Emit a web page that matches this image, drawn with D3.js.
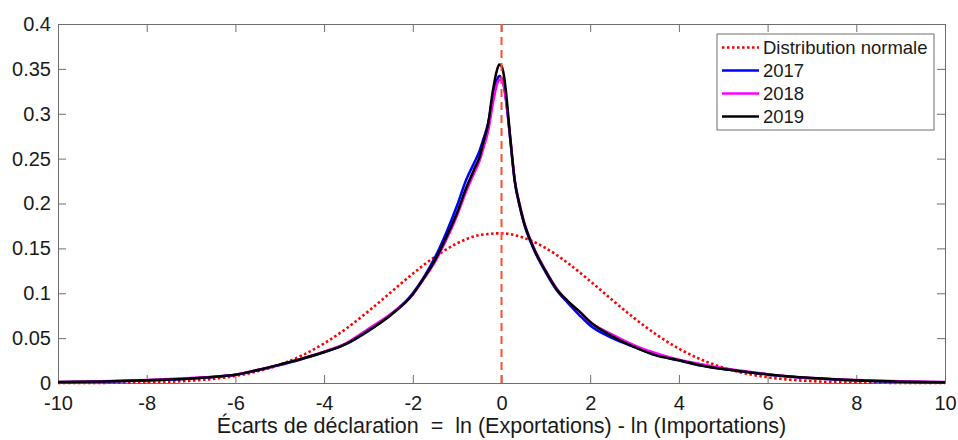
<!DOCTYPE html>
<html>
<head>
<meta charset="utf-8">
<script src="https://cdn.jsdelivr.net/npm/d3@7"></script>
<style>
  body { margin: 0; background: #fff; }
  text { font-family: "Liberation Sans", Arial, sans-serif; fill: #1a1a1a; }
</style>
</head>
<body>
<div id="chart"></div>
<script>
var xs = [-10, -9, -8, -7, -6.5, -6, -5.5, -5, -4.5, -4, -3.5, -3, -2.5, -2, -1.75, -1.5, -1.25, -1,
  -0.8, -0.6, -0.5, -0.4, -0.3, -0.2, -0.1, -0.05, 0, 0.05, 0.1, 0.2, 0.3, 0.4, 0.5, 0.7,
  1, 1.25, 1.5, 1.75, 2, 2.5, 3, 3.5, 4, 4.5, 5, 5.5, 6, 6.5, 7, 8, 9, 10];

var y2017 = [0.0008, 0.0015, 0.0028, 0.0050, 0.0068, 0.0092, 0.0142, 0.0200, 0.0268, 0.0342, 0.0435, 0.0580, 0.0760, 0.1000, 0.118, 0.140, 0.167, 0.198,
  0.226, 0.247, 0.258, 0.273, 0.290, 0.318, 0.338, 0.342, 0.340, 0.333, 0.316, 0.270, 0.224, 0.199, 0.179, 0.152,
  0.123, 0.103, 0.089, 0.076, 0.064, 0.050, 0.040, 0.031, 0.025, 0.0195, 0.0155, 0.0125, 0.0095, 0.0070, 0.0052, 0.0028, 0.0014, 0.0006];

var y2018 = [0.0012, 0.0020, 0.0033, 0.0055, 0.0070, 0.0093, 0.0145, 0.0205, 0.0272, 0.0350, 0.0445, 0.0605, 0.0770, 0.0985, 0.116, 0.135, 0.159, 0.187,
  0.213, 0.236, 0.247, 0.263, 0.281, 0.310, 0.333, 0.338, 0.337, 0.331, 0.316, 0.272, 0.226, 0.201, 0.181, 0.154,
  0.125, 0.105, 0.091, 0.080, 0.068, 0.054, 0.042, 0.033, 0.026, 0.021, 0.0165, 0.013, 0.0098, 0.0073, 0.0055, 0.0033, 0.0020, 0.0010];

var y2019 = [0.0010, 0.0018, 0.0030, 0.0050, 0.0068, 0.0092, 0.0145, 0.0205, 0.0270, 0.0345, 0.0437, 0.0585, 0.0755, 0.0990, 0.117, 0.137, 0.162, 0.190,
  0.217, 0.240, 0.251, 0.270, 0.289, 0.324, 0.349, 0.355, 0.353, 0.344, 0.325, 0.272, 0.225, 0.200, 0.180, 0.153,
  0.124, 0.104, 0.091, 0.080, 0.068, 0.052, 0.040, 0.0305, 0.0255, 0.0195, 0.0155, 0.0125, 0.0095, 0.0072, 0.0055, 0.0030, 0.0015, 0.0008];

// normal curve, read every 0.5
var xsNorm = d3.range(-10, 10.01, 0.5);
var yNorm = [0.00003, 0.00007, 0.00016, 0.00035, 0.0007, 0.0014, 0.0026, 0.0046, 0.0079, 0.0130,
  0.0204, 0.0307, 0.0441, 0.0607, 0.0800, 0.1009, 0.1218, 0.1406, 0.1556, 0.1647,
  0.1668, 0.1618, 0.1502, 0.1335, 0.1135, 0.0924, 0.0720, 0.0537, 0.0383, 0.0262,
  0.0171, 0.0107, 0.0064, 0.0037, 0.0020, 0.0011, 0.0005, 0.0003, 0.0001, 0.00005, 0.00002];

var xTicks = [-10, -8, -6, -4, -2, 0, 2, 4, 6, 8, 10];
var yTicks = [0, 0.05, 0.1, 0.15, 0.2, 0.25, 0.3, 0.35, 0.4];
var legendLabels = ["Distribution normale", "2017", "2018", "2019"];

var W = 958, H = 440;
var margin = { top: 24, right: 13, bottom: 57, left: 58 };
var width = W - margin.left - margin.right;
var height = H - margin.top - margin.bottom;

var svg = d3.select("#chart").append("svg")
  .attr("width", W).attr("height", H);

var g = svg.append("g")
  .attr("transform", `translate(${margin.left},${margin.top})`);

var x = d3.scaleLinear().domain([-10, 10]).range([0, width]);
var y = d3.scaleLinear().domain([0, 0.4]).range([height, 0]);

var axisColor = "#6e6e6e";

// axes with inward ticks on all four sides (matlab box)
var xAxis = g.append("g").attr("transform", `translate(0,${height})`)
  .call(d3.axisBottom(x).tickValues(xTicks).tickSize(-8).tickPadding(13).tickFormat(d => String(d)));
var xTop = g.append("g")
  .call(d3.axisTop(x).tickValues(xTicks).tickSize(-8).tickFormat(""));
var yAxis = g.append("g")
  .call(d3.axisLeft(y).tickValues(yTicks).tickSize(-8).tickPadding(7).tickFormat(d => d === 0 ? "0" : String(+d.toFixed(2))));
var yRight = g.append("g").attr("transform", `translate(${width},0)`)
  .call(d3.axisRight(y).tickValues(yTicks).tickSize(-8).tickFormat(""));

[xAxis, xTop, yAxis, yRight].forEach(a => {
  a.select(".domain").attr("stroke", axisColor);
  a.selectAll(".tick line").attr("stroke", axisColor);
  a.selectAll(".tick text").style("font-size", "20px").attr("fill", "#1a1a1a");
});
xAxis.selectAll(".tick text").attr("dy", "0.7em");

var line = d3.line().x(d => x(d[0])).y(d => y(d[1])).curve(d3.curveMonotoneX);

// normal distribution (dotted red)
g.append("path")
  .datum(xsNorm.map((v, i) => [v, yNorm[i]]))
  .attr("d", line)
  .attr("fill", "none")
  .attr("stroke", "#ff0000")
  .attr("stroke-width", 2.6)
  .attr("stroke-dasharray", "2.5,2.5");

var series = [
  { vals: y2017, color: "#0000ff" },
  { vals: y2018, color: "#ff00ff" },
  { vals: y2019, color: "#000000" }
];

series.forEach(s => {
  g.append("path")
    .datum(xs.map((v, i) => [v, s.vals[i]]))
    .attr("d", line)
    .attr("fill", "none")
    .attr("stroke", s.color)
    .attr("stroke-width", 2.5)
    .attr("stroke-linejoin", "round");
});

// vertical dashed line at 0
g.append("line")
  .attr("x1", x(0)).attr("x2", x(0))
  .attr("y1", 0).attr("y2", height)
  .attr("stroke", "#ff4d2e")
  .attr("stroke-width", 2)
  .attr("stroke-dasharray", "8,5");

// x label
svg.append("text")
  .attr("x", margin.left + x(0))
  .attr("y", 433)
  .attr("text-anchor", "middle")
  .style("font-size", "21.5px")
  .attr("xml:space", "preserve")
  .text("Écarts de déclaration  =  ln (Exportations) - ln (Importations)");

// legend
var lg = svg.append("g").attr("transform", "translate(717,34)");
lg.append("rect")
  .attr("width", 217).attr("height", 96)
  .attr("fill", "#fff").attr("stroke", axisColor).attr("stroke-width", 1);

var legendStyles = [
  { color: "#ff0000", dash: "2.5,2.5" },
  { color: "#0000ff", dash: null },
  { color: "#ff00ff", dash: null },
  { color: "#000000", dash: null }
];
legendLabels.forEach((lab, i) => {
  var yy = 13.5 + i * 23;
  lg.append("line")
    .attr("x1", 5).attr("x2", 42).attr("y1", yy).attr("y2", yy)
    .attr("stroke", legendStyles[i].color)
    .attr("stroke-width", 2.4)
    .attr("stroke-dasharray", legendStyles[i].dash);
  lg.append("text")
    .attr("x", 46).attr("y", yy).attr("dy", "0.36em")
    .style("font-size", "18.5px")
    .text(lab);
});
</script>
</body>
</html>
